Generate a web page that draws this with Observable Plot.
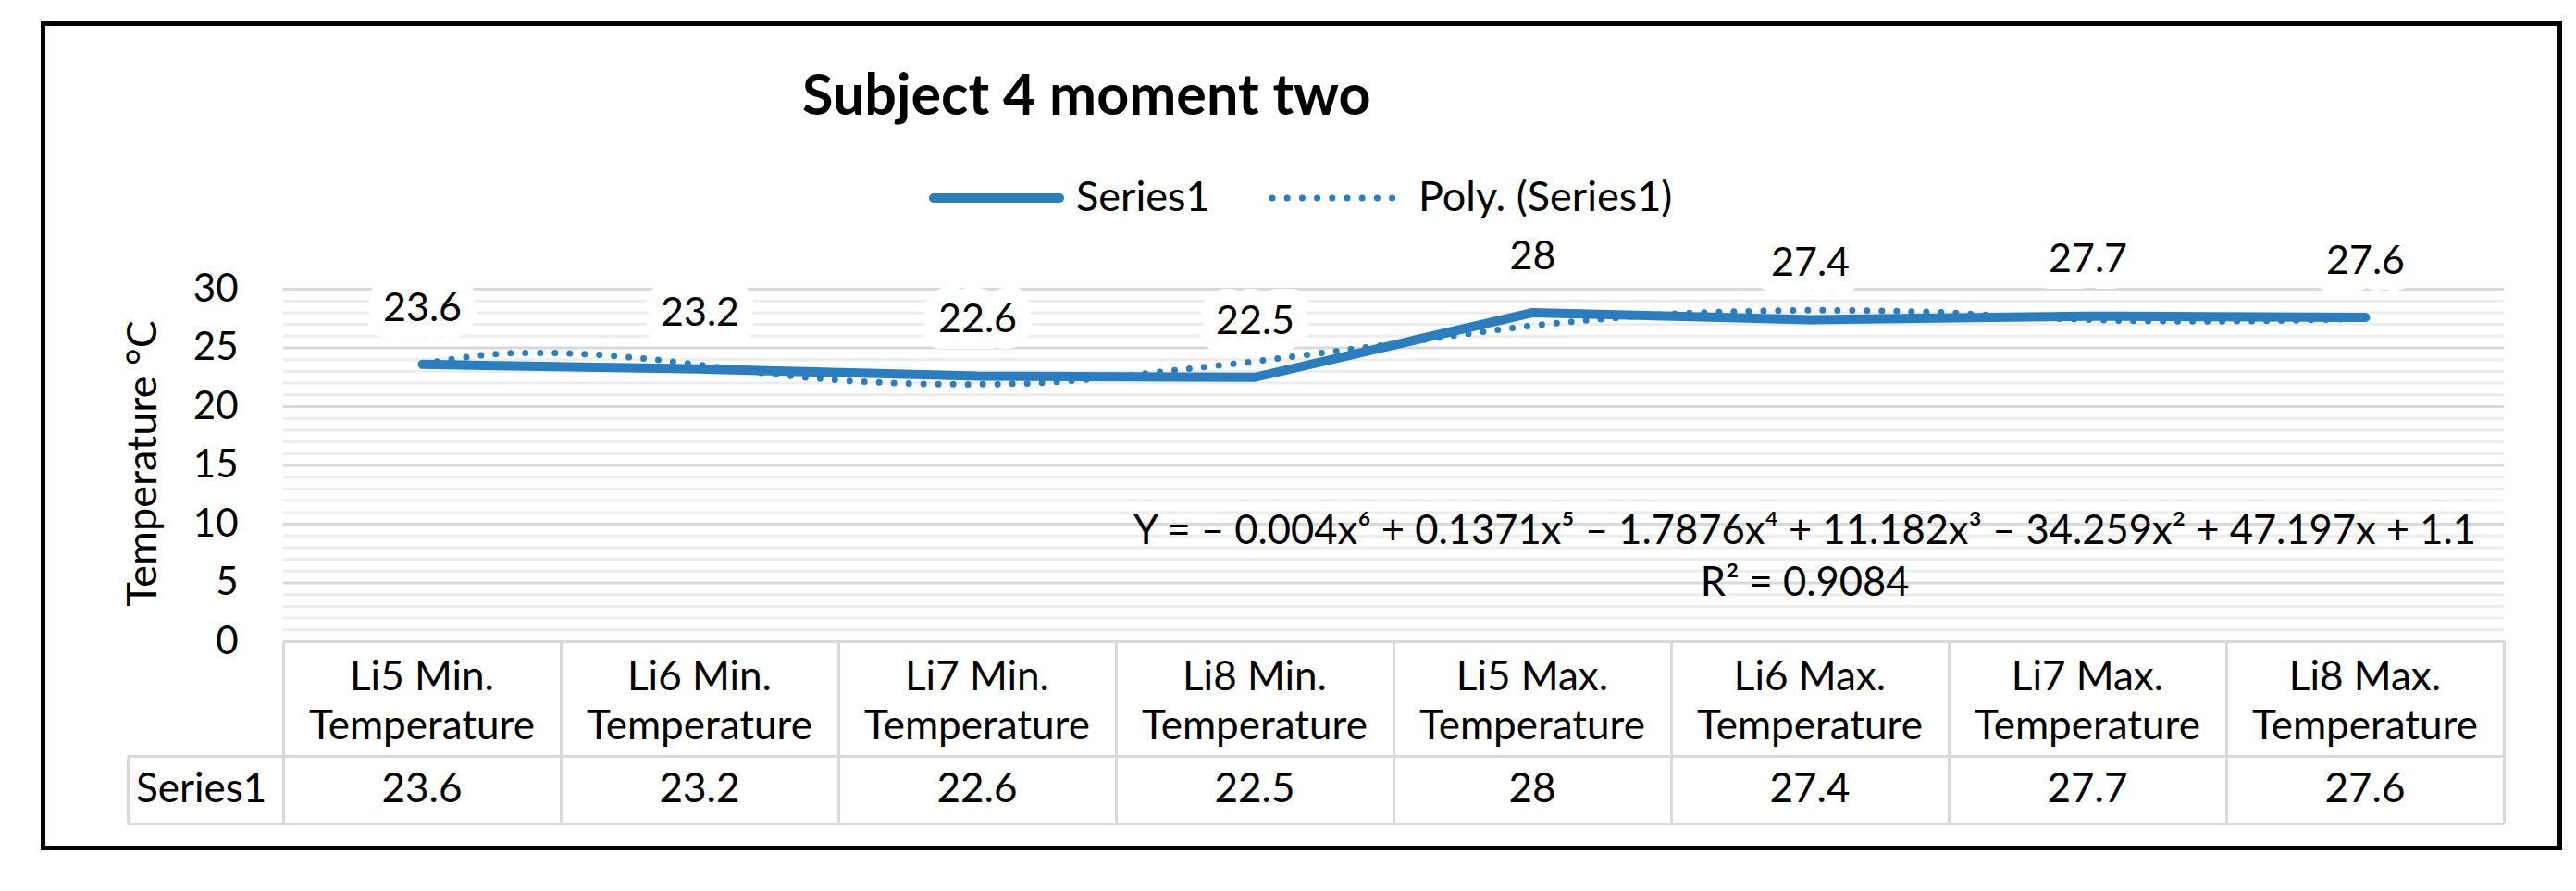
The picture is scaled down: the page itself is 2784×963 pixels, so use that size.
<!DOCTYPE html>
<html><head><meta charset="utf-8">
<script src="https://cdn.jsdelivr.net/npm/d3@7"></script>
<script src="https://cdn.jsdelivr.net/npm/@observablehq/plot@0.6"></script>
<style>
body{margin:0;background:#fff;}
#chart{position:relative;width:2784px;height:963px;background:#fff;font-family:Lato,"Open Sans",sans-serif;color:#000;overflow:hidden}
#chart .abs{position:absolute;white-space:nowrap}
</style></head><body><div id="chart"></div>
<script>
// ---- data ----
const categories = ["Li5 Min. Temperature","Li6 Min. Temperature","Li7 Min. Temperature","Li8 Min. Temperature",
                    "Li5 Max. Temperature","Li6 Max. Temperature","Li7 Max. Temperature","Li8 Max. Temperature"];
const values = [23.6, 23.2, 22.6, 22.5, 28, 27.4, 27.7, 27.6];
const yTicks = [0, 5, 10, 15, 20, 25, 30];
// polynomial trend line (x = category position 1..8)
const trendX = [1, 1.25, 1.5, 1.75, 2, 2.25, 2.5, 2.75, 3, 3.25, 3.5, 3.75, 4, 4.25, 4.5, 4.75, 5, 5.25, 5.5, 5.75, 6, 6.25, 6.5, 6.75, 7, 7.25, 7.5, 7.75, 8];
const trendY = [23.65, 24.45, 24.55, 24.2, 23.55, 22.8, 22.25, 21.97, 21.9, 22.05, 22.55, 23.2, 23.85, 24.6, 25.35, 26.15, 26.9, 27.45, 27.9, 28.1, 28.2, 28.15, 28.0, 27.65, 27.4, 27.28, 27.27, 27.35, 27.5];
const titleText = "Subject 4 moment two";
const yLabel = "Temperature °C";
const seriesName = "Series1";
const trendName = "Poly. (Series1)";
const equation = "Y = – 0.004x⁶ + 0.1371x⁵ – 1.7876x⁴ + 11.182x³ – 34.259x² + 47.197x + 1.1";
const r2Text = "R² = 0.9084";

// ---- layout / style ----
const FONT = "Lato, 'Open Sans', sans-serif";
const W = 2784, ML = 306, MR = 78, SVG_TOP = 240, MT = 72, MB = 17, H = 470;
const BLUE = "#2a7dbf", GRID = "#d9d9d9", MINOR = "#ededed";
const FS = 42;

const chart = d3.select("#chart");

// outer frame
chart.append("div").attr("class","abs")
  .style("left","44px").style("top","23px").style("width","2725px").style("height","896px")
  .style("border","5px solid #000").style("box-sizing","border-box");

// title
chart.append("div").attr("class","abs").text(titleText)
  .style("left","867px").style("top","70px").style("font-weight","700")
  .style("font-size","61px").style("line-height","61px");

// legend
function swatch(left, dotted){
  const s = chart.append("svg").attr("class","abs").attr("width",150).attr("height",30)
    .style("left",left+"px").style("top","199px");
  s.append("line").attr("x1",6).attr("x2",dotted?136:142).attr("y1",15).attr("y2",15)
    .attr("stroke",BLUE).attr("stroke-width",dotted?7:10).attr("stroke-linecap","round")
    .attr("stroke-dasharray",dotted?"0 16.2":null);
}
swatch(1003,false);
chart.append("div").attr("class","abs").text(seriesName)
  .style("left","1163px").style("top","189px").style("font-size","45px").style("line-height","45px");
swatch(1369,true);
chart.append("div").attr("class","abs").text(trendName)
  .style("left","1533px").style("top","189px").style("font-size","45px").style("line-height","45px");

// y axis title
chart.append("div").attr("class","abs").text(yLabel)
  .style("left", (152 - 200) + "px").style("top", (501 - 25) + "px")
  .style("width","400px").style("height","50px").style("line-height","50px")
  .style("text-align","center").style("font-size","45px")
  .style("transform","rotate(-90deg)").style("transform-origin","50% 50%");

// ---- plot ----
const data = values.map((v, i) => ({x: i + 1, v}));
const trend = trendX.map((x, i) => ({x, v: trendY[i]}));
const minorTicks = d3.range(0, 31).filter(t => !yTicks.includes(t));

const plot = Plot.plot({
  width: W, height: H,
  marginLeft: ML, marginRight: MR, marginTop: MT, marginBottom: MB,
  style: {fontFamily: FONT, fontSize: FS + "px", color: "#000", background: "transparent", overflow: "visible"},
  x: {domain: [0.5, categories.length + 0.5], axis: null},
  y: {domain: [0, 30], ticks: yTicks, tickSize: 0, tickPadding: 49, label: null},
  marks: [
    Plot.ruleY(minorTicks, {stroke: MINOR, strokeWidth: 3}),
    Plot.ruleY(yTicks, {stroke: GRID, strokeWidth: 3}),
    Plot.line(trend, {x: "x", y: "v", stroke: BLUE, strokeWidth: 7, strokeDasharray: "0 16",
                      strokeLinecap: "round", curve: "catmull-rom"}),
    Plot.line(data, {x: "x", y: "v", stroke: BLUE, strokeWidth: 10, strokeLinecap: "round", strokeLinejoin: "miter"}),
    Plot.text(data, {x: "x", y: "v", text: d => String(d.v), dy: -61, fontSize: 43, fill: "#000",
                     stroke: "white", strokeWidth: 36, strokeLinejoin: "round", paintOrder: "stroke"}),
    Plot.text([equation + "\n" + r2Text], {frameAnchor: "right", text: d => d, dx: -756, dy: 95,
                     textAnchor: "middle", lineHeight: 1.3, fontSize: 43.5, fill: "#000"})
  ]
});
d3.select(plot).style("position","absolute").style("left","0px").style("top", SVG_TOP + "px");
chart.node().appendChild(plot);

// ---- data table under the axis ----
const colW = (W - ML - MR) / categories.length;
const yTop = SVG_TOP + H - MB;          // x-axis line (value 0)
const yMid = yTop + 124, yBot = yMid + 73, xLeft = 138;
function hline(x1, x2, y){
  chart.append("div").attr("class","abs").style("left",x1+"px").style("top",(y-1.5)+"px")
    .style("width",(x2-x1)+"px").style("height","3px").style("background",GRID);
}
function vline(x, y1, y2){
  chart.append("div").attr("class","abs").style("left",(x-1.5)+"px").style("top",y1+"px")
    .style("width","3px").style("height",(y2-y1)+"px").style("background",GRID);
}
hline(ML, W - MR, yTop);
hline(xLeft, W - MR, yMid);
hline(xLeft, W - MR, yBot);
vline(xLeft, yMid, yBot);
categories.forEach((c, i) => {
  const x0 = ML + i * colW;
  vline(x0, yTop, yBot);
  const m = c.match(/^(\S+ \S+) (.*)$/);
  chart.append("div").attr("class","abs").text(m[1])
    .style("left", x0 + "px").style("top", (yTop + 10) + "px").style("width", colW + "px")
    .style("text-align","center").style("font-size","44px").style("line-height","53px");
  chart.append("div").attr("class","abs").text(m[2])
    .style("left", x0 + "px").style("top", (yTop + 63) + "px").style("width", colW + "px")
    .style("text-align","center").style("font-size","44px").style("line-height","53px");
  chart.append("div").attr("class","abs").text(String(values[i]))
    .style("left", x0 + "px").style("top", (yMid + 11) + "px").style("width", colW + "px")
    .style("text-align","center").style("font-size","44px").style("line-height","45px");
});
vline(W - MR, yTop, yBot);
chart.append("div").attr("class","abs").text(seriesName)
  .style("left", (xLeft + 9) + "px").style("top", (yMid + 11) + "px")
  .style("font-size","44px").style("line-height","45px");
</script></body></html>
